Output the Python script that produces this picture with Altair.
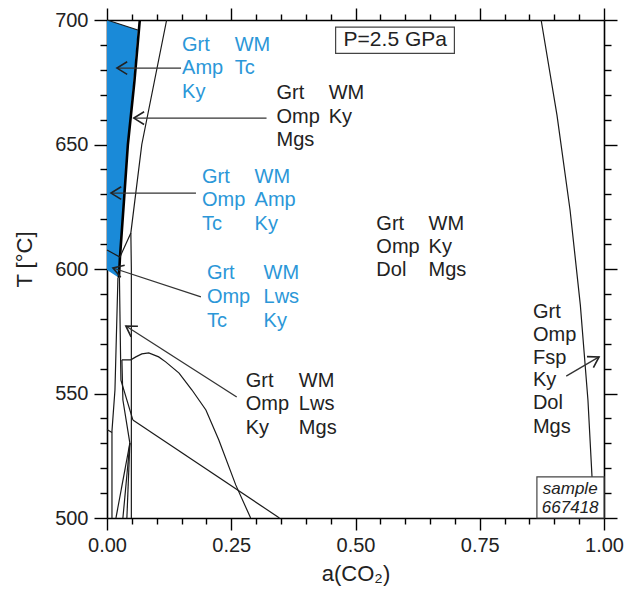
import math
import altair as alt
import pandas as pd

# ---------------- axis tick values ----------------
X_MAJOR = [0.0, 0.25, 0.5, 0.75, 1.0]
X_MINOR = [0.05, 0.1, 0.15, 0.2, 0.3, 0.35, 0.4, 0.45, 0.55, 0.6, 0.65, 0.7,
           0.8, 0.85, 0.9, 0.95]
T_MAJOR = [500, 550, 600, 650, 700]
T_MINOR = [510, 520, 530, 540, 560, 570, 580, 590, 610, 620, 630, 640,
           660, 670, 680, 690]

# ---------------- blue field (T, left a(CO2), right a(CO2)) ----------------
field_T = [596.5, 599.6, 604.5, 627, 650, 675, 696, 700]
field_xl = [0.024, 0.0, 0.0, 0.0, 0.0, 0.0, 0.0, 0.0]
field_xr = [0.024, 0.0245, 0.026, 0.034, 0.042, 0.053, 0.062, 0.0]

# ---------------- reaction curves ----------------
thick_x = [0.066, 0.055, 0.042, 0.034, 0.026, 0.024]
thick_T = [700, 675, 650, 627, 604.5, 596.5]

curves = {
    "top_edge": ([0.0, 0.062], [700, 696]),
    "c_line": ([0.120, 0.095, 0.070, 0.048, 0.049, 0.049],
               [700, 675, 650, 614.5, 600, 500]),
    "v_link": ([0.0, 0.026, 0.048], [607.6, 604.8, 614.5]),
    "d_line": ([0.022, 0.016, 0.010, 0.010], [596.5, 551.4, 535, 500]),
    "b_line": ([0.025, 0.028, 0.052], [596.5, 555.4, 539.4]),
    "long": ([0.052, 0.347], [539.4, 500]),
    "small": ([0.0, 0.010], [535.5, 534.3]),
    "f_up": ([0.030, 0.032, 0.046], [563.5, 547.4, 530.1]),
    "e1": ([0.046, 0.018], [530.1, 500]),
    "e2": ([0.046, 0.032], [530.1, 500]),
    "e3": ([0.046, 0.040], [530.1, 500]),
    "dome": ([0.030, 0.048, 0.058, 0.070, 0.084, 0.104, 0.118, 0.145, 0.171,
              0.199, 0.225, 0.259, 0.289],
             [563.5, 563.5, 564.7, 565.9, 566.3, 564.7, 562.7, 558.2, 551.4,
              543.4, 531.3, 513.3, 500]),
    "right": ([0.8735, 0.9054, 0.9317, 0.9524, 0.9677, 0.9759],
              [700, 661.8, 623.7, 585.5, 547.4, 516.5]),
}

# ---------------- field labels ----------------
blue_text = ["Grt", "Amp", "Ky", "WM", "Tc",
             "Grt", "Omp", "Tc", "WM", "Amp", "Ky",
             "Grt", "Omp", "Tc", "WM", "Lws", "Ky"]
blue_x = [0.151, 0.151, 0.151, 0.257, 0.257,
          0.191, 0.191, 0.191, 0.297, 0.297, 0.297,
          0.201, 0.201, 0.201, 0.315, 0.315, 0.315]
blue_T = [690.0, 680.7, 671.1, 690.0, 680.7,
          636.9, 627.7, 618.1, 636.9, 627.7, 618.1,
          598.4, 588.8, 579.1, 598.4, 588.8, 579.1]

black_text = ["Grt", "Omp", "Mgs", "WM", "Ky",
              "Grt", "Omp", "Dol", "WM", "Ky", "Mgs",
              "Grt", "Omp", "Ky", "WM", "Lws", "Mgs",
              "Grt", "Omp", "Fsp", "Ky", "Dol", "Mgs"]
black_x = [0.341, 0.341, 0.341, 0.446, 0.446,
           0.542, 0.542, 0.542, 0.647, 0.647, 0.647,
           0.279, 0.279, 0.279, 0.386, 0.386, 0.386,
           0.857, 0.857, 0.857, 0.857, 0.857, 0.857]
black_T = [670.7, 661.0, 651.8, 670.7, 661.0,
           618.1, 608.8, 599.6, 618.1, 608.8, 599.6,
           555.0, 545.8, 536.1, 555.0, 545.8, 536.1,
           582.7, 573.5, 564.3, 555.4, 546.2, 536.5]

# ---------------- arrows (tail -> tip) ----------------
arrow_x0 = [0.149, 0.321, 0.179, 0.189, 0.261, 0.924]
arrow_T0 = [680.7, 660.6, 630.5, 588.8, 548.6, 557.0]
arrow_x1 = [0.020, 0.054, 0.008, 0.012, 0.038, 0.990]
arrow_T1 = [680.7, 660.6, 630.5, 600.4, 577.1, 564.7]

# ---------------- boxes ----------------
box_x = [0.460, 0.865]
box_x2 = [0.699, 1.0]
box_T = [697.1, 500]
box_T2 = [686.6, 516.5]
p_text = ["P=2.5 GPa"]
p_x = [0.580]
p_T = [692.0]
s_text = ["sample", "667418"]
s_x = [0.932, 0.932]
s_T = [511.6, 504.0]

# =====================================================================
W, H = 497, 498
FONT = "Liberation Sans"
BLUE_FILL = "#1a8ad8"
BLUE_TEXT = "#2b97d8"
INK = "#222222"

xs = alt.Scale(domain=[0, 1], nice=False, zero=False)
ys = alt.Scale(domain=[500, 700], nice=False, zero=False)

field_df = pd.DataFrame({"T": field_T, "xl": field_xl, "xr": field_xr})
thick_df = pd.DataFrame({"x": thick_x, "T": thick_T,
                         "o": list(range(len(thick_x)))})
rows = []
for name, (cx, cT) in curves.items():
    for i, (a, b) in enumerate(zip(cx, cT)):
        rows.append({"curve": name, "x": a, "T": b, "o": i})
curve_df = pd.DataFrame(rows)

blue_lab = pd.DataFrame({"x": blue_x, "T": blue_T, "t": blue_text})
black_lab = pd.DataFrame({"x": black_x, "T": black_T, "t": black_text})

sx, sy = W / 1.0, H / 200.0
angles = []
for a0, b0, a1, b1 in zip(arrow_x0, arrow_T0, arrow_x1, arrow_T1):
    dx = (a1 - a0) * sx
    dy = -(b1 - b0) * sy
    angles.append(math.degrees(math.atan2(-dy, -dx)) % 360)
arrow_df = pd.DataFrame({"x0": arrow_x0, "T0": arrow_T0, "x1": arrow_x1,
                         "T1": arrow_T1, "ang": angles})
box_df = pd.DataFrame({"x": box_x, "x2": box_x2, "T": box_T, "T2": box_T2})
p_df = pd.DataFrame({"x": p_x, "T": p_T, "t": p_text})
s_df = pd.DataFrame({"x": s_x, "T": s_T, "t": s_text})
dummy = pd.DataFrame({"x": [0.0, 1.0], "T": [500, 700]})


def ax(orient, values, size, labels=False, domain=False, title=None, fmt=None,
       lpad=4, tpad=6, title_y=None):
    kw = dict(orient=orient, values=values, tickSize=size, tickWidth=1.4,
              tickColor="black", domain=domain, domainColor="black",
              domainWidth=1.6, grid=False, labels=labels)
    if labels:
        kw.update(labelFont=FONT, labelFontSize=20, labelColor=INK,
                  labelPadding=lpad, labelFlush=False, labelOverlap=False)
        if fmt:
            kw["format"] = fmt
    if title:
        kw.update(title=title, titleFont=FONT, titleFontSize=22,
                  titleFontWeight="normal", titleColor=INK, titlePadding=tpad)
        if title_y is not None:
            kw["titleY"] = title_y
    else:
        kw["title"] = None
    return alt.Axis(**kw)


axis_layers = [
    alt.Chart(dummy).mark_point(opacity=0).encode(
        x=alt.X("x:Q", scale=xs, axis=ax("bottom", X_MAJOR, 12, labels=True,
                                          domain=True, title="a(CO₂)",
                                          fmt=".2f", lpad=5, tpad=8)),
        y=alt.Y("T:Q", scale=ys, axis=ax("left", T_MAJOR, 13, labels=True,
                                          domain=True, title="T [°C]",
                                          fmt="d", lpad=6, tpad=18,
                                          title_y=239)),
    ),
    alt.Chart(dummy).mark_point(opacity=0).encode(
        x=alt.X("x:Q", scale=xs, axis=ax("bottom", X_MINOR, 6)),
        y=alt.Y("T:Q", scale=ys, axis=ax("left", T_MINOR, 7)),
    ),
    alt.Chart(dummy).mark_point(opacity=0).encode(
        x=alt.X("x:Q", scale=xs, axis=ax("top", X_MAJOR, 12, domain=True)),
        y=alt.Y("T:Q", scale=ys, axis=ax("right", T_MAJOR, 13, domain=True)),
    ),
    alt.Chart(dummy).mark_point(opacity=0).encode(
        x=alt.X("x:Q", scale=xs, axis=ax("top", X_MINOR, 6)),
        y=alt.Y("T:Q", scale=ys, axis=ax("right", T_MINOR, 7)),
    ),
]

X = lambda f: alt.X(f, scale=xs, axis=None)
Y = lambda f: alt.Y(f, scale=ys, axis=None)

blue_area = alt.Chart(field_df).mark_area(
    orient="horizontal", color=BLUE_FILL, opacity=1, interpolate="linear"
).encode(y=Y("T:Q"), x=X("xl:Q"), x2="xr:Q")

thick = alt.Chart(thick_df).mark_line(color="black", strokeWidth=2.6).encode(
    x=X("x:Q"), y=Y("T:Q"), order="o:Q")

thin = alt.Chart(curve_df).mark_line(color="#1a1a1a", strokeWidth=1.2).encode(
    x=X("x:Q"), y=Y("T:Q"), detail="curve:N", order="o:Q")

boxes = alt.Chart(box_df).mark_rect(fill="white", stroke="#444",
                                    strokeWidth=1.2).encode(
    x=X("x:Q"), x2="x2:Q", y=Y("T:Q"), y2="T2:Q")

txt_kw = dict(align="left", baseline="middle", font=FONT, fontSize=20)
blue_txt = alt.Chart(blue_lab).mark_text(color=BLUE_TEXT, **txt_kw).encode(
    x=X("x:Q"), y=Y("T:Q"), text="t:N")
black_txt = alt.Chart(black_lab).mark_text(color=INK, **txt_kw).encode(
    x=X("x:Q"), y=Y("T:Q"), text="t:N")
p_txt = alt.Chart(p_df).mark_text(color=INK, align="center", baseline="middle",
                                  font=FONT, fontSize=21).encode(
    x=X("x:Q"), y=Y("T:Q"), text="t:N")
s_txt = alt.Chart(s_df).mark_text(color=INK, align="center", baseline="middle",
                                  font=FONT, fontSize=17,
                                  fontStyle="italic").encode(
    x=X("x:Q"), y=Y("T:Q"), text="t:N")

shafts = alt.Chart(arrow_df).mark_rule(color="#333", strokeWidth=1.3).encode(
    x=X("x0:Q"), y=Y("T0:Q"), x2="x1:Q", y2="T1:Q")
heads = alt.Chart(arrow_df).mark_point(
    shape="M1,-0.62L0,0L1,0.62", size=420, filled=False, color="#222",
    strokeWidth=1.6, opacity=1
).encode(x=X("x1:Q"), y=Y("T1:Q"), angle=alt.Angle("ang:Q", scale=None))

chart = alt.layer(
    *axis_layers, blue_area, thick, thin, boxes, blue_txt, black_txt, p_txt,
    s_txt, shafts, heads
).resolve_axis(x="independent", y="independent").properties(
    width=W, height=H, autosize=alt.AutoSizeParams(type="none"),
    padding={"left": 99, "top": 12, "right": 20, "bottom": 72},
).configure_view(stroke=None).configure(background="white")

chart.save("out.html", embed_options={"renderer": "svg", "actions": False})
